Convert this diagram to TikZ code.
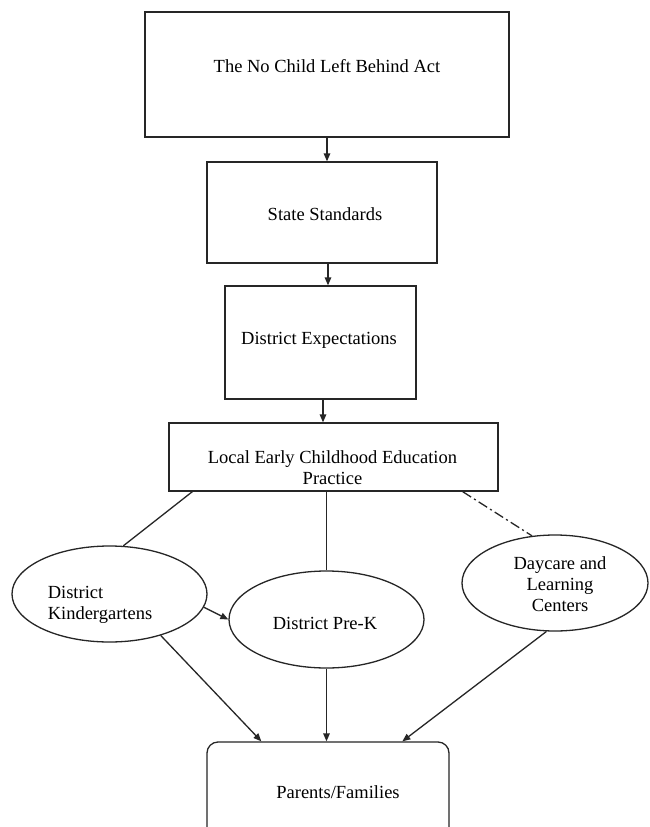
\documentclass[tikz,border=0pt]{standalone}
\usepackage{fontspec}
\setmainfont{Liberation Serif}
\usetikzlibrary{shapes.geometric,arrows.meta}
\begin{document}
\begin{tikzpicture}[x=1pt,y=-1pt,
  line/.style={line width=1.3pt,draw=black!85},
  arr/.style={line,-{Triangle[length=8pt,width=6.5pt]}},
  box/.style={line,rectangle,inner sep=0pt},
  oval/.style={line,ellipse,inner sep=0pt},
  txt/.style={inner sep=0pt,font=\fontsize{18.5}{21}\selectfont,align=center}]
\useasboundingbox (0,0) rectangle (649,827);
\clip (0,0) rectangle (649,827);
\fill[white] (0,0) rectangle (649,827);

% boxes of the chain
\node[box,minimum width=364pt,minimum height=125pt] (act) at (327,74.5) {};
\node[box,minimum width=230pt,minimum height=101pt] (state) at (322,212.5) {};
\node[box,minimum width=191pt,minimum height=113pt] (dist) at (320.5,342.5) {};
\node[box,minimum width=329pt,minimum height=68pt] (local) at (333.5,457) {};

% settings
\node[oval,minimum width=195pt,minimum height=96pt] (kg) at (109.5,594) {};
\node[oval,minimum width=195pt,minimum height=97pt] (pk) at (326.5,619.5) {};
\node[oval,minimum width=186pt,minimum height=96pt] (dc) at (555,583) {};

% families
\node[box,rounded corners=11pt,minimum width=242pt,minimum height=100pt] (par) at (328,792) {};

% texts
\node[txt] (actT) at (327,66) {The No Child Left Behind Act};
\node[txt] (stateT) at (325,214) {State Standards};
\node[txt] (distT) at (319,340) {District Expectations};
\node[txt] (localT) at (332.5,468) {Local Early Childhood Education\\Practice};
\node[txt,align=left] (kgT) at (100,605) {District\\Kindergartens};
\node[txt] (pkT) at (325,623) {District Pre-K};
\node[txt] (dcT) at (560,584.5) {Daycare and\\Learning\\Centers};
\node[txt] (parT) at (338,792) {Parents/Families};

% connectors
\draw[arr] (act.south) -- (state.north -| act.south);
\draw[arr] ([xshift=6pt]state.south) -- ([xshift=7.5pt]dist.north);
\draw[arr] ([xshift=2.5pt]dist.south) -- ([xshift=-10.5pt]local.north);
\draw[line] ([xshift=24pt]local.south west) -- (kg.74);
\draw[line] (local.south -| pk.north) -- (pk.north);
\draw[line,dash pattern=on 10pt off 3.5pt on 2pt off 3.5pt] ([xshift=-36pt]local.south east) -- (dc.116);
\draw[arr] (kg.-8) -- (pk.west);
\draw[arr] (kg.-39) -- ([xshift=55pt]par.north west);
\draw[arr] (pk.south) -- (par.north -| pk.south);
\draw[arr] (dc.-100) -- ([xshift=196pt]par.north west);
\end{tikzpicture}
\end{document}
